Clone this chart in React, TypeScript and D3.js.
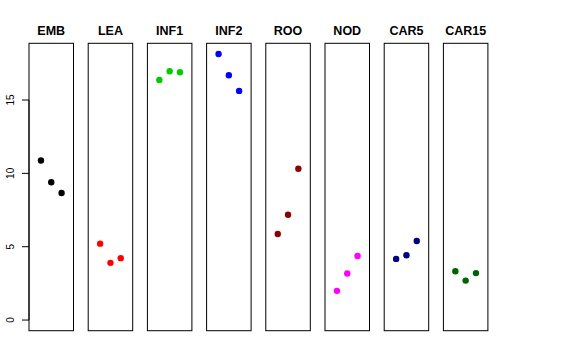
import { useEffect, useRef } from 'react';
import * as d3 from 'd3';

const categories = ["EMB", "LEA", "INF1", "INF2", "ROO", "NOD", "CAR5", "CAR15"];
const colors = ["#000000", "#FF0000", "#00CD00", "#0000FF", "#8B0000", "#FF00FF", "#000080", "#006400"];
const rep1 = [10.88, 5.21, 16.37, 18.14, 5.87, 1.99, 4.17, 3.33];
const rep2 = [9.39, 3.90, 16.96, 16.69, 7.18, 3.17, 4.42, 2.69];
const rep3 = [8.66, 4.22, 16.89, 15.62, 10.31, 4.37, 5.39, 3.20];
const yTicks = [0, 5, 10, 15];

export default function App() {
  const svgRef = useRef<SVGSVGElement | null>(null);

  useEffect(() => {
    document.body.style.margin = "0";
    if (!svgRef.current) return;
    const svg = d3.select(svgRef.current);
    svg.selectAll("*").remove();

    const width = 576, height = 360;
    svg.attr("width", width).attr("height", height);

    const top = 43.3, bottom = 330.7;
    const firstLeft = 29, step = 59.2, panelW = 44.5;

    // y: data 0..18.14 with R-style 4% expansion
    const yMax = 18.14;
    const pad = yMax * 0.04;
    const y = d3.scaleLinear().domain([-pad, yMax + pad]).range([bottom, top]);

    // x inside each panel: reps 1..3, xlim 0..4 plus 4%
    const xIn = d3.scaleLinear().domain([-0.16, 4.16]).range([0, panelW]);

    const g = svg.append("g");

    categories.forEach((cat, i) => {
      const left = firstLeft + i * step;
      const pg = g.append("g").attr("transform", `translate(${left},0)`);

      pg.append("rect")
        .attr("x", 0)
        .attr("y", top)
        .attr("width", panelW)
        .attr("height", bottom - top)
        .attr("fill", "none")
        .attr("stroke", "#000")
        .attr("stroke-width", 1);

      pg.append("text")
        .attr("x", panelW / 2)
        .attr("y", 35)
        .attr("text-anchor", "middle")
        .style("font-family", "Liberation Sans, Arial, sans-serif")
        .style("font-weight", "bold")
        .style("font-size", "12.5px")
        .text(cat);

      const vals = [rep1[i], rep2[i], rep3[i]];
      pg.selectAll("circle")
        .data(vals)
        .enter()
        .append("circle")
        .attr("cx", (d, j) => xIn(j + 1))
        .attr("cy", d => y(d))
        .attr("r", 3.2)
        .attr("fill", colors[i]);
    });

    // y axis
    const ax = svg.append("g");
    ax.append("line")
      .attr("x1", firstLeft).attr("x2", firstLeft)
      .attr("y1", y(0)).attr("y2", y(15))
      .attr("stroke", "#000");
    yTicks.forEach(t => {
      ax.append("line")
        .attr("x1", firstLeft - 7).attr("x2", firstLeft)
        .attr("y1", y(t)).attr("y2", y(t))
        .attr("stroke", "#000");
      ax.append("text")
        .attr("transform", `translate(13.5,${y(t)}) rotate(-90)`)
        .attr("text-anchor", "middle")
        .style("font-family", "Liberation Sans, Arial, sans-serif")
        .style("font-size", "10px")
        .text(t);
    });
  }, []);

  return <svg ref={svgRef} style={{ display: "block" }}></svg>;
}
